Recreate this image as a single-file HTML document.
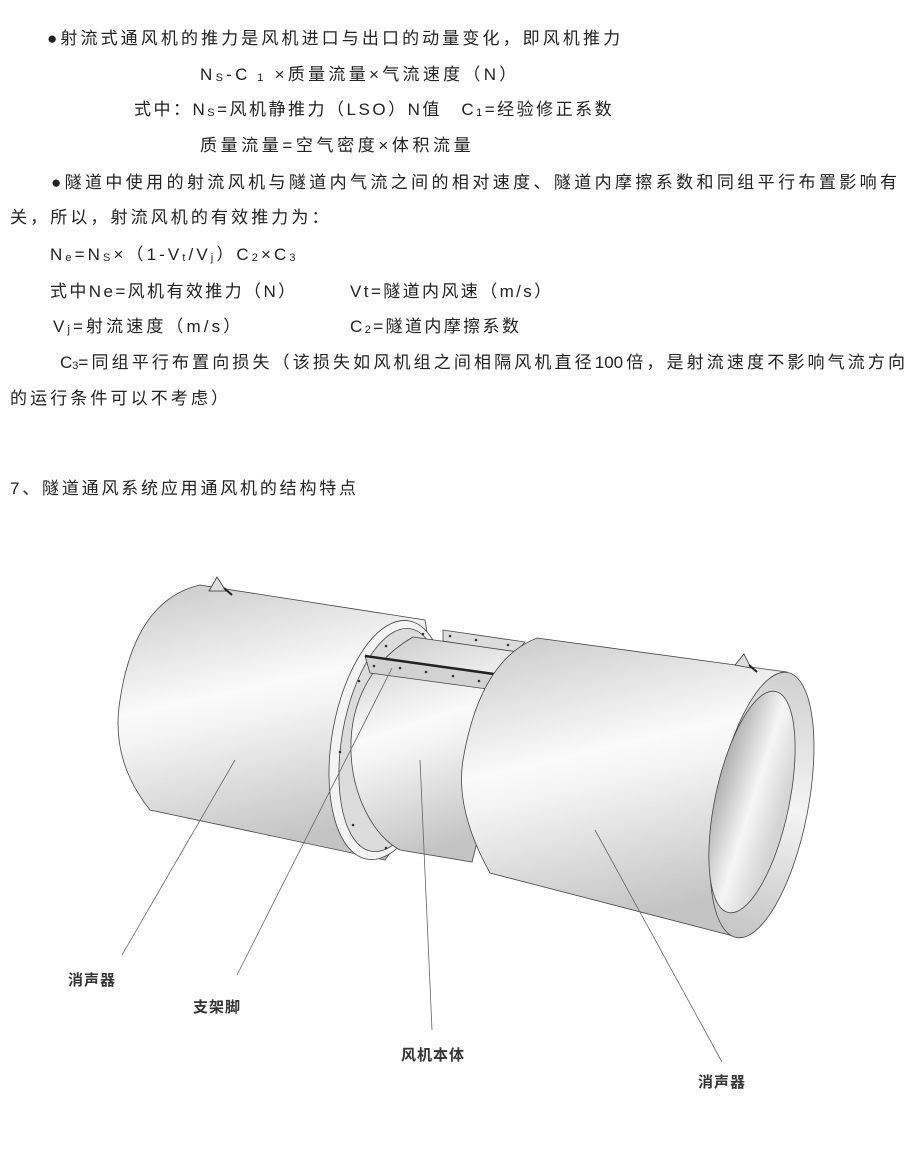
<!DOCTYPE html>
<html><head><meta charset="utf-8"><style>
body{margin:0;background:#fff;}
#w{position:relative;width:910px;height:1152px;overflow:hidden;background:#fff;font-family:"Liberation Sans","Noto Sans CJK SC",sans-serif;color:#222;}
.t{position:absolute;font-size:17px;line-height:20px;white-space:nowrap;letter-spacing:3.1px;}
.j{text-align:justify;text-align-last:justify;letter-spacing:0;}
.l{position:absolute;font-size:15px;line-height:18px;white-space:nowrap;letter-spacing:1px;font-weight:bold;color:#333;}
sub{font-size:11px;vertical-align:-1px;line-height:0}
svg{position:absolute;left:0;top:0}
</style></head><body><div id="w">
<div class="t" style="left:47px;top:29px">●射流式通风机的推力是风机进口与出口的动量变化，即风机推力</div>
<div class="t" style="left:200px;top:65px;letter-spacing:3.3px">N<sub>S</sub>-C<sub> 1</sub> ×质量流量×气流速度（N）</div>
<div class="t" style="left:134px;top:100px;letter-spacing:2.5px">式中：N<sub>S</sub>=风机静推力（LSO）N值　C<sub>1</sub>=经验修正系数</div>
<div class="t" style="left:200px;top:136px;letter-spacing:3.6px">质量流量=空气密度×体积流量</div>
<div class="t j" style="left:51px;top:173px;width:846px">●隧道中使用的射流风机与隧道内气流之间的相对速度、隧道内摩擦系数和同组平行布置影响有</div>
<div class="t" style="left:10px;top:208px">关，所以，射流风机的有效推力为：</div>
<div class="t" style="left:50px;top:245px">N<sub>e</sub>=N<sub>S</sub>×（1-V<sub>t</sub>/V<sub>j</sub>）C<sub>2</sub>×C<sub>3</sub></div>
<div class="t" style="left:50px;top:282px;letter-spacing:2.4px">式中Ne=风机有效推力（N）</div>
<div class="t" style="left:350px;top:282px;letter-spacing:2.4px">Vt=隧道内风速（m/s）</div>
<div class="t" style="left:53px;top:317px">V<sub>j</sub>=射流速度（m/s）</div>
<div class="t" style="left:350px;top:317px;letter-spacing:2.4px">C<sub>2</sub>=隧道内摩擦系数</div>
<div class="t j" style="left:60px;top:353px;width:845px">C<sub>3</sub>=同组平行布置向损失（该损失如风机组之间相隔风机直径100倍，是射流速度不影响气流方向</div>
<div class="t" style="left:10px;top:389px">的运行条件可以不考虑）</div>
<div class="t" style="left:10px;top:479px;letter-spacing:2.8px;font-size:17px">7、隧道通风系统应用通风机的结构特点</div>

<svg width="910" height="1152" viewBox="0 0 910 1152">
<defs>
<linearGradient id="g" x1="0" y1="0" x2="0.25" y2="1">
<stop offset="0" stop-color="#c8c8c8"/><stop offset="0.45" stop-color="#fafafa"/><stop offset="0.55" stop-color="#f4f4f4"/><stop offset="1" stop-color="#c4c4c4"/>
</linearGradient>
<linearGradient id="gi" x1="0" y1="0" x2="1" y2="0.3">
<stop offset="0" stop-color="#a0a0a0"/><stop offset="0.6" stop-color="#f6f6f6"/><stop offset="1" stop-color="#d4d4d4"/>
</linearGradient>
<linearGradient id="go" x1="0" y1="0" x2="0" y2="1">
<stop offset="0" stop-color="#d0d0d0"/><stop offset="0.5" stop-color="#f4f4f4"/><stop offset="1" stop-color="#c4c4c4"/>
</linearGradient>
</defs>
<g stroke="#444" stroke-width="0.8">
<path d="M200 585 L425 620 C440 700 430 800 385 860 L150 810 Q110 760 120 700 Q135 600 200 585 Z" fill="url(#g)"/>
<ellipse cx="388" cy="740" rx="56" ry="121" transform="rotate(10 388 740)" fill="#f3f3f3"/>
<ellipse cx="391" cy="740" rx="49" ry="113" transform="rotate(10 391 740)" fill="#dcdcdc"/>
<path d="M443 630 L525 642 L515 653 L443 641 Z" fill="#dcdcdc"/>
<path d="M413 637 L525 653 L472 862 L400 850 C345 820 320 690 413 637 Z" fill="url(#g)"/>
<path d="M365 656 L494 674 L487 689 L370 673 Z" fill="#d2d2d2"/>
<line x1="365" y1="656" x2="494" y2="674" stroke="#222" stroke-width="2.5"/>
<path d="M537 638 L787 672 L737 937 L490 873 Q455 810 463 760 Q480 660 537 638 Z" fill="url(#g)"/>
<ellipse cx="762" cy="805" rx="46" ry="135" transform="rotate(11 762 805)" fill="url(#go)"/>
<ellipse cx="752" cy="802" rx="37" ry="113" transform="rotate(12 752 802)" fill="url(#gi)"/>
</g>
<path d="M209 591 L217 577 L226 591 Z" fill="#ddd" stroke="#333" stroke-width="0.8"/>
<line x1="224" y1="588" x2="232" y2="595" stroke="#222" stroke-width="2"/>
<path d="M735 665 L744 654 L751 668 Z" fill="#ddd" stroke="#333" stroke-width="0.8"/>
<line x1="749" y1="665" x2="757" y2="672" stroke="#222" stroke-width="2"/>
<g fill="#333">
<circle cx="423" cy="634" r="1.3"/><circle cx="386" cy="646" r="1.3"/><circle cx="359" cy="681" r="1.3"/><circle cx="340" cy="752" r="1.3"/><circle cx="353" cy="825" r="1.3"/><circle cx="386" cy="848" r="1.3"/>
<circle cx="450" cy="636" r="1.3"/><circle cx="476" cy="640" r="1.3"/><circle cx="508" cy="645" r="1.3"/>
<circle cx="374" cy="666" r="1.3"/><circle cx="400" cy="668" r="1.3"/><circle cx="426" cy="672" r="1.3"/><circle cx="453" cy="676" r="1.3"/><circle cx="479" cy="681" r="1.3"/>
</g>
<g stroke="#666" stroke-width="0.8">
<line x1="235" y1="760" x2="122" y2="955"/>
<line x1="392" y1="668" x2="237" y2="975"/>
<line x1="420" y1="760" x2="432" y2="1030"/>
<line x1="595" y1="830" x2="722" y2="1062"/>
</g>
</svg>
<div class="l" style="left:68px;top:972px">消声器</div>
<div class="l" style="left:193px;top:999px">支架脚</div>
<div class="l" style="left:401px;top:1047px">风机本体</div>
<div class="l" style="left:698px;top:1074px">消声器</div>
</div></body></html>
